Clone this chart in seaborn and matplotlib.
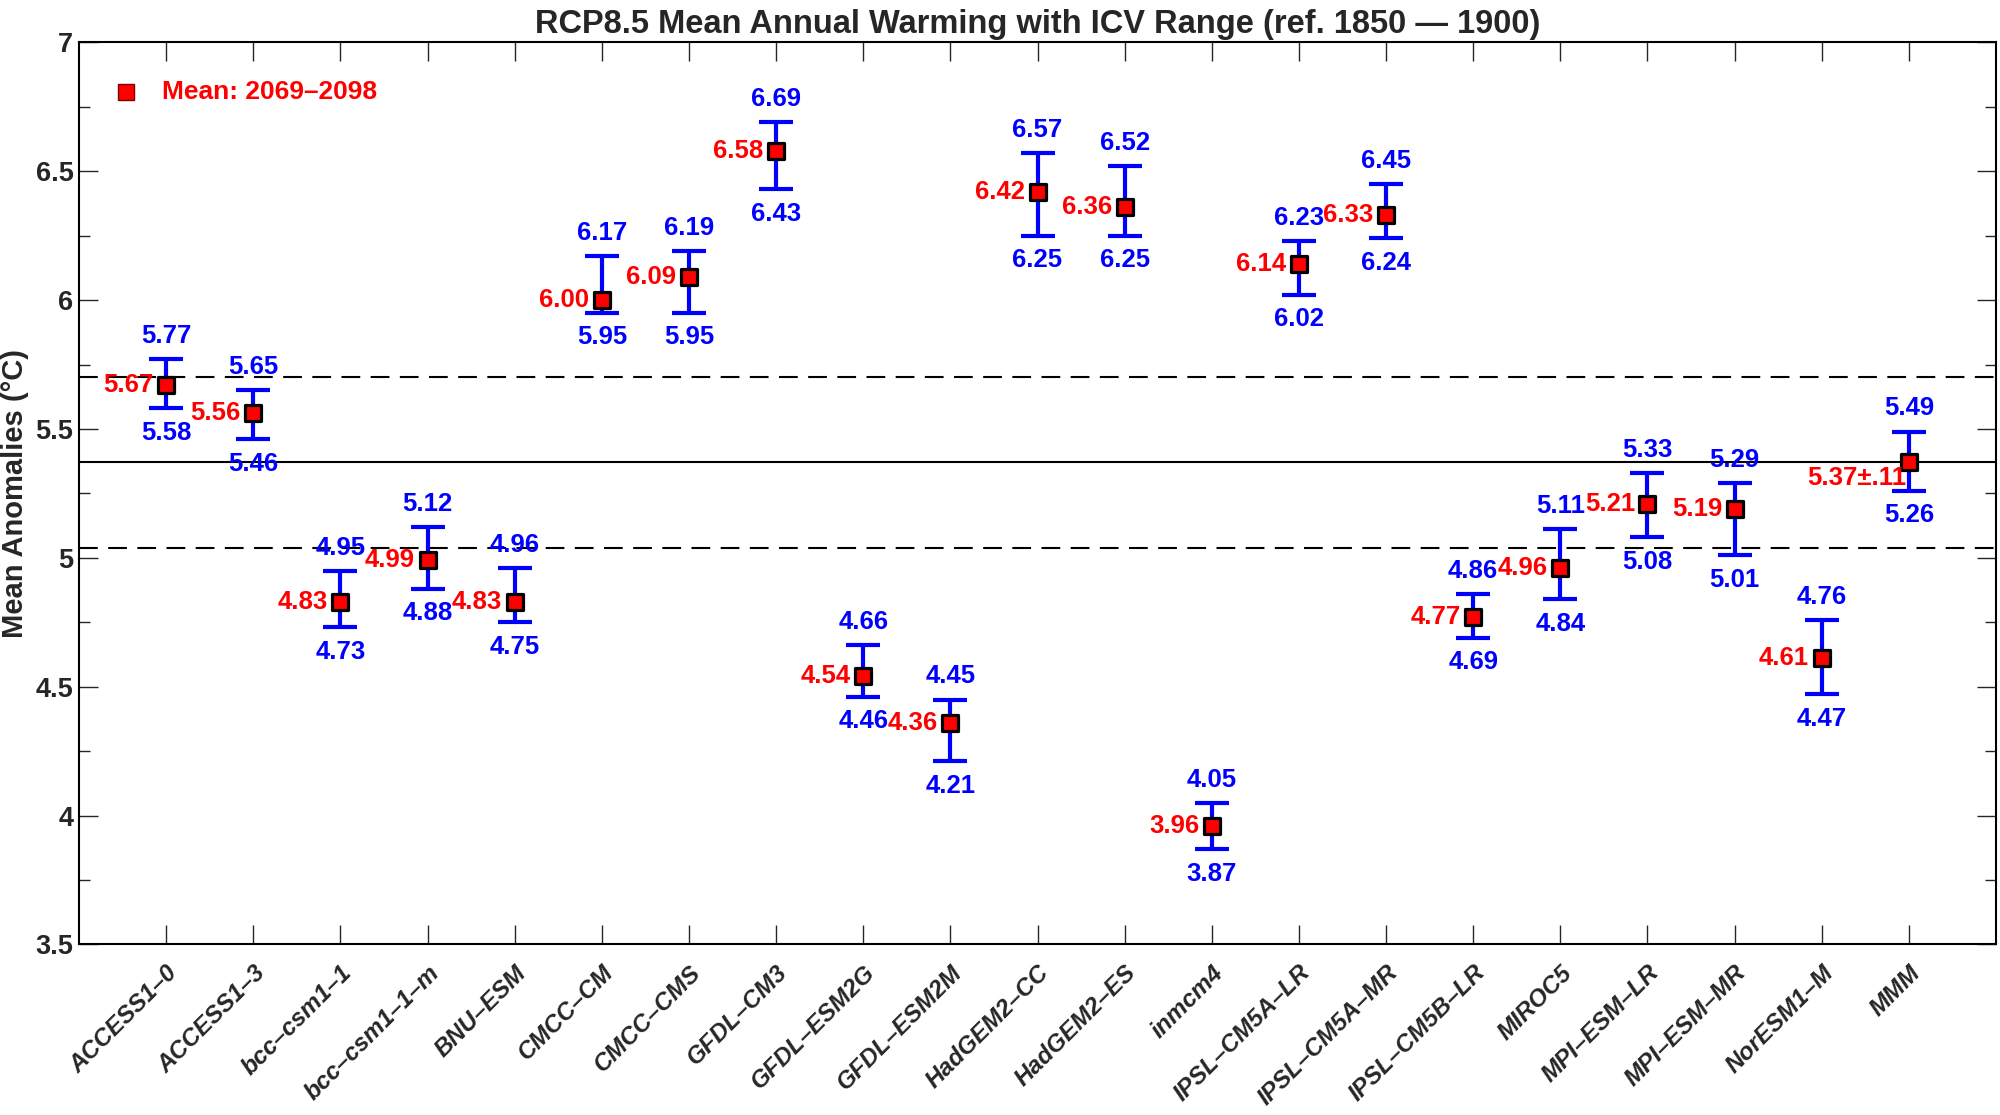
import matplotlib
matplotlib.use("Agg")
import matplotlib.pyplot as plt
import numpy as np
import pandas as pd
import seaborn as sns
from matplotlib.ticker import MultipleLocator

# model names and values
models = ["ACCESS1\u20130", "ACCESS1\u20133", "bcc\u2013csm1\u20131", "bcc\u2013csm1\u20131\u2013m",
          "BNU\u2013ESM", "CMCC\u2013CM", "CMCC\u2013CMS", "GFDL\u2013CM3", "GFDL\u2013ESM2G",
          "GFDL\u2013ESM2M", "HadGEM2\u2013CC", "HadGEM2\u2013ES", "inmcm4", "IPSL\u2013CM5A\u2013LR",
          "IPSL\u2013CM5A\u2013MR", "IPSL\u2013CM5B\u2013LR", "MIROC5", "MPI\u2013ESM\u2013LR",
          "MPI\u2013ESM\u2013MR", "NorESM1\u2013M", "MMM"]
mean_vals = [5.67, 5.56, 4.83, 4.99, 4.83, 6.00, 6.09, 6.58, 4.54, 4.36, 6.42,
             6.36, 3.96, 6.14, 6.33, 4.77, 4.96, 5.21, 5.19, 4.61, 5.37]
upper_vals = [5.77, 5.65, 4.95, 5.12, 4.96, 6.17, 6.19, 6.69, 4.66, 4.45, 6.57,
              6.52, 4.05, 6.23, 6.45, 4.86, 5.11, 5.33, 5.29, 4.76, 5.49]
lower_vals = [5.58, 5.46, 4.73, 4.88, 4.75, 5.95, 5.95, 6.43, 4.46, 4.21, 6.25,
              6.25, 3.87, 6.02, 6.24, 4.69, 4.84, 5.08, 5.01, 4.47, 5.26]
mmm_mean = 5.37
mmm_spread = 0.11
band_upper = 5.70
band_lower = 5.04

df = pd.DataFrame({"model": models, "mean": mean_vals,
                   "upper": upper_vals, "lower": lower_vals})
df["pos"] = np.arange(len(df))

sns.set_theme(style="ticks")
plt.rcParams["font.family"] = ["Liberation Sans", "DejaVu Sans"]
plt.rcParams["font.weight"] = "bold"

fig, ax = plt.subplots(figsize=(20, 11.15), dpi=100)
fig.subplots_adjust(left=0.0395, right=0.998, top=0.962, bottom=0.153)

# reference lines: multi-model mean and its spread
ax.axhline(mmm_mean, color="black", lw=1.5, zorder=1)
ax.axhline(band_upper, color="black", lw=1.5, ls=(0, (9, 5)), zorder=1)
ax.axhline(band_lower, color="black", lw=1.5, ls=(0, (9, 5)), zorder=1)

# ICV range as error bars
ax.errorbar(df["pos"], df["mean"],
            yerr=[df["mean"] - df["lower"], df["upper"] - df["mean"]],
            fmt="none", ecolor="blue", elinewidth=3, capsize=12, capthick=3, zorder=2)

sns.scatterplot(data=df, x="pos", y="mean", marker="s", s=135, color="red",
                edgecolor="black", linewidth=2.3, zorder=3, ax=ax, legend=False)

for _, r in df.iterrows():
    ax.annotate(f"{r['upper']:.2f}", (r["pos"], r["upper"]), xytext=(0, 8),
                textcoords="offset points", ha="center", va="bottom",
                color="blue", fontsize=18.5, fontweight="bold")
    ax.annotate(f"{r['lower']:.2f}", (r["pos"], r["lower"]), xytext=(0, -9),
                textcoords="offset points", ha="center", va="top",
                color="blue", fontsize=18.5, fontweight="bold")
    if r["model"] == "MMM":
        ax.annotate(f"{r['mean']:.2f}\u00b1{mmm_spread:.2f}".replace("\u00b10.", "\u00b1."),
                    (r["pos"], r["mean"]), xytext=(-2, -11),
                    textcoords="offset points", ha="right", va="center",
                    color="red", fontsize=18.5, fontweight="bold")
    else:
        ax.annotate(f"{r['mean']:.2f}", (r["pos"], r["mean"]), xytext=(-9, 0),
                    textcoords="offset points", ha="right", va="center",
                    color="red", fontsize=18.5, fontweight="bold")

# legend entry drawn by hand, as in the original
ax.plot([0.0245], [0.9446], marker="s", ms=11, mfc="red", mec="#800000", mew=1,
        transform=ax.transAxes, ls="none")
ax.text(0.0433, 0.9446, "Mean: 2069\u20132098", transform=ax.transAxes, color="red",
        fontsize=19, fontweight="bold", va="center", ha="left")

ax.set_xlim(-1, 21)
ax.set_ylim(3.5, 7)
ax.set_xticks(df["pos"])
ax.set_xticklabels(df["model"], rotation=45, ha="right", va="top",
                   rotation_mode="anchor", fontsize=17.5, fontweight="bold", style="italic")
ax.yaxis.set_major_locator(MultipleLocator(0.5))
ax.yaxis.set_minor_locator(MultipleLocator(0.25))
ax.set_yticklabels([f"{v:g}" for v in ax.get_yticks()], fontsize=19.5, fontweight="bold")
ax.tick_params(axis="x", direction="in", length=14, width=1, top=True, pad=12)
ax.tick_params(axis="y", which="major", direction="in", length=14, width=1, right=True, pad=4)
ax.tick_params(axis="y", which="minor", direction="in", length=8, width=1, right=True)
for sp in ax.spines.values():
    sp.set_linewidth(1.5)
    sp.set_color("black")

ax.set_xlabel("")
ax.set_ylabel("Mean Anomalies (\u00b0C)", fontsize=21, fontweight="bold")
ax.yaxis.set_label_coords(-0.026, 0.5)
ax.set_title("RCP8.5 Mean Annual Warming with ICV Range (ref. 1850 \u2014 1900)",
             fontsize=23.5, fontweight="bold", pad=7)

fig.savefig("out.png", dpi=100)
